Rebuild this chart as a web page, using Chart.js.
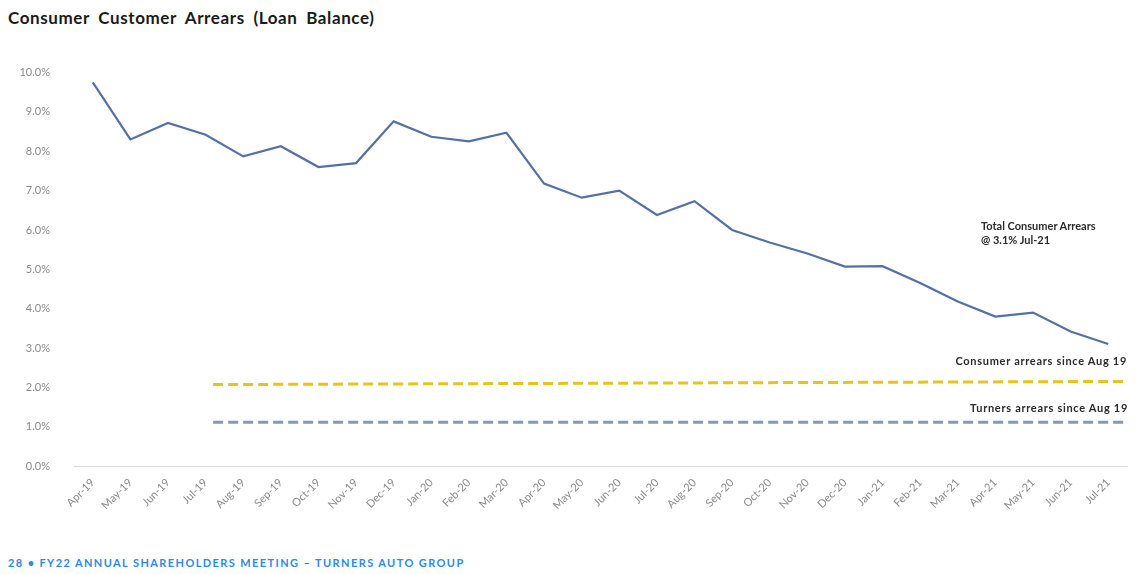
<!DOCTYPE html>
<html>
<head>
<meta charset="utf-8">
<script src="https://cdn.jsdelivr.net/npm/chart.js@4.4.0/dist/chart.umd.min.js"></script>
<style>
  body { margin: 0; width: 1137px; height: 574px; background: #fff; overflow: hidden; position: relative; font-family: Lato, sans-serif; }
  #titre { position: absolute; left: 8px; top: 8px; font-size: 17px; font-weight: bold; color: #1a1a1a; line-height: 20px; word-spacing: 4px; letter-spacing: 0.6px; }
  #zone { position: absolute; left: 0; top: 50px; width: 1137px; height: 470px; }
  .note { position: absolute; font-size: 11px; font-weight: bold; color: #2b2b2b; line-height: 14px; white-space: nowrap; }
  .large { letter-spacing: 0.7px; }
  #pied { position: absolute; left: 8px; top: 556px; font-size: 11px; font-weight: bold; color: #2f8ae0; letter-spacing: 1.4px; white-space: nowrap; }
</style>
</head>
<body>
<div id="titre">Consumer Customer Arrears (Loan Balance)</div>
<div id="zone"><canvas id="chart"></canvas></div>
<div class="note" style="left:981px; top:219px;">Total Consumer Arrears<br>@ 3.1% Jul-21</div>
<div class="note large" style="right:10px; top:354px;">Consumer arrears since Aug 19</div>
<div class="note large" style="right:9px; top:401px;">Turners arrears since Aug 19</div>
<div id="pied">28 • FY22 ANNUAL SHAREHOLDERS MEETING – TURNERS AUTO GROUP</div>
<script>
// Données
const mois = ['Apr-19', 'May-19', 'Jun-19', 'Jul-19', 'Aug-19', 'Sep-19', 'Oct-19', 'Nov-19', 'Dec-19',
    'Jan-20', 'Feb-20', 'Mar-20', 'Apr-20', 'May-20', 'Jun-20', 'Jul-20', 'Aug-20', 'Sep-20', 'Oct-20',
    'Nov-20', 'Dec-20', 'Jan-21', 'Feb-21', 'Mar-21', 'Apr-21', 'May-21', 'Jun-21', 'Jul-21'];
const arrieres = [9.75, 8.3, 8.72, 8.42, 7.87, 8.13, 7.6, 7.7, 8.76, 8.37, 8.25, 8.47, 7.18, 6.82,
    7.0, 6.38, 6.73, 6.0, 5.68, 5.4, 5.07, 5.08, 4.65, 4.18, 3.8, 3.9, 3.42, 3.1];
// lignes de référence (début et fin, en index de mois)
const refX = [3.2, 27.5];
const consumerRef = [2.07, 2.15];
const turnersRef = [1.11, 1.11];
const yTicks = [0, 1, 2, 3, 4, 5, 6, 7, 8, 9, 10];

function afficherGraphique() {
    const ctx = document.getElementById('chart').getContext('2d');
    const points = arr => arr.map((v, i) => ({ x: i, y: v }));
    const ref = vals => refX.map((x, i) => ({ x: x, y: vals[i] }));

    new Chart(ctx, {
        type: 'line',
        data: {
            datasets: [{
                data: points(arrieres),
                borderColor: '#5571a4',
                borderWidth: 2.2,
                pointRadius: 0,
                tension: 0
            }, {
                data: ref(consumerRef),
                borderColor: '#e5c41f',
                borderWidth: 3,
                borderDash: [10, 5],
                pointRadius: 0
            }, {
                data: ref(turnersRef),
                borderColor: '#8897b4',
                borderWidth: 3,
                borderDash: [10, 5],
                pointRadius: 0
            }]
        },
        options: {
            responsive: true,
            maintainAspectRatio: false,
            animation: false,
            layout: { padding: { top: 11, right: 10, left: 0, bottom: 0 } },
            plugins: { legend: { display: false }, tooltip: { enabled: false } },
            scales: {
                x: {
                    type: 'linear',
                    min: -0.5,
                    max: 27.5,
                    afterBuildTicks: s => { s.ticks = mois.map((m, i) => ({ value: i })); },
                    afterFit: s => { s.height = 54; },
                    grid: { display: false },
                    border: { display: true, color: '#d9d9d9', width: 1 },
                    ticks: {
                        autoSkip: false,
                        minRotation: 45,
                        maxRotation: 45,
                        padding: 2,
                        color: '#8a8a8a',
                        font: { family: 'Lato', size: 11 },
                        callback: v => mois[v]
                    }
                },
                y: {
                    min: 0,
                    max: 10,
                    afterBuildTicks: s => { s.ticks = yTicks.map(v => ({ value: v })); },
                    afterFit: s => { s.width = 74; },
                    grid: { display: false },
                    border: { display: false },
                    ticks: {
                        padding: 16,
                        color: '#8a8a8a',
                        font: { family: 'Lato', size: 11 },
                        callback: v => v.toFixed(1) + '%'
                    }
                }
            }
        }
    });
}

afficherGraphique();
</script>
</body>
</html>
